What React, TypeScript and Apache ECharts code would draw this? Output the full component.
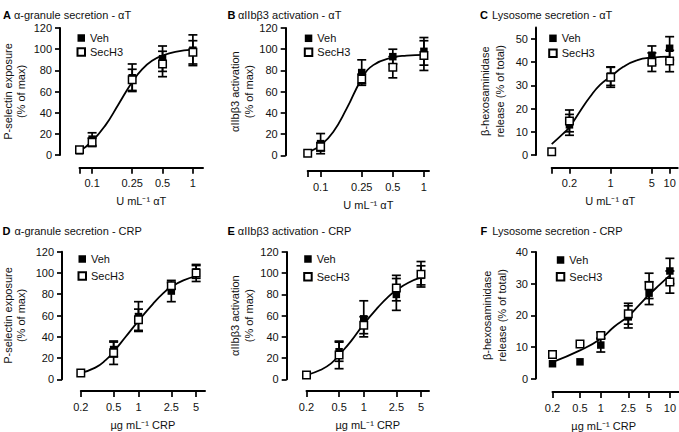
import React, { useEffect, useRef } from "react";
import * as echarts from "echarts";

// ---------- Data ----------
// Panel A: alpha-granule secretion - alphaT
const dosesA = [0.075, 0.1, 0.25, 0.5, 1];
const vehA = [4, 15, 73, 91, 99];
const vehErrA = [0, 6, 13, 12, 14.5];
const secA = [5, 12, 71, 86, 97];
const secErrA = [0, 4, 10, 12, 11];
const fitXA = [0.075, 0.1, 0.1355, 0.183, 0.25, 0.313, 0.393, 0.5, 0.668, 1];
const fitYA = [3.5, 13, 28, 48, 69, 81, 89, 94, 97.5, 99.5];
const xTicksA = [0.075, 0.1, 0.25, 0.5, 1];
const xLabelsA = ["", "0.1", "0.25", "0.5", "1"];
const yTicksA = [0, 20, 40, 60, 80, 100, 120];

// Panel B: alphaIIbbeta3 activation - alphaT
const dosesB = [0.075, 0.1, 0.25, 0.5, 1];
const vehB = [2, 11, 78, 93, 98];
const vehErrB = [0, 9.5, 12, 7, 13];
const secB = [2, 8, 72, 83, 94];
const secErrB = [0, 4, 4.5, 10, 14];
const fitXB = [0.08, 0.1, 0.1324, 0.1786, 0.25, 0.323, 0.5, 0.68, 1];
const fitYB = [4, 9.5, 22, 44, 72, 85, 92.3, 94, 94.7];
const xTicksB = [0.075, 0.1, 0.25, 0.5, 1];
const xLabelsB = ["", "0.1", "0.25", "0.5", "1"];
const yTicksB = [0, 20, 40, 60, 80, 100, 120];

// Panel C: Lysosome secretion - alphaT
const dosesC = [0.1, 0.2, 1, 5, 10];
const vehC = [1.4, 13, 34, 43, 46];
const vehErrC = [0, 4.5, 4, 4, 5];
const secC = [1.4, 14.7, 33.5, 40, 40.5];
const secErrC = [0, 4.7, 4.3, 4, 4.6];
const fitXC = [0.1, 0.158, 0.2, 0.303, 0.448, 0.66, 1, 1.64, 2.76, 5, 10];
const fitYC = [4.7, 9.3, 12, 18.9, 25.1, 30.2, 33.8, 38, 40.8, 42, 42.4];
const xTicksC = [0.1, 0.2, 1, 5, 10];
const xLabelsC = ["", "0.2", "1", "5", "10"];
const yTicksC = [0, 10, 20, 30, 40, 50];

// Panel D: alpha-granule secretion - CRP
const dosesD = [0.2, 0.5, 1, 2.5, 5];
const vehD = [6, 28, 59, 83, 101];
const vehErrD = [0, 7, 14, 10, 6];
const secD = [6, 25, 56, 88, 100];
const secErrD = [0, 11, 10, 3, 8];
const fitXD = [0.2, 0.3, 0.4, 0.5, 0.7, 1, 1.5, 2, 2.5, 3.5, 5];
const fitYD = [6, 11, 18, 26, 40, 55, 71, 81, 87, 93, 97];
const xTicksD = [0.2, 0.5, 1, 2.5, 5];
const xLabelsD = ["0.2", "0.5", "1", "2.5", "5"];
const yTicksD = [0, 20, 40, 60, 80, 100, 120];

// Panel E: alphaIIbbeta3 activation - CRP
const dosesE = [0.2, 0.5, 1, 2.5, 5];
const vehE = [4, 26, 57, 80, 98];
const vehErrE = [0, 9, 17, 15, 9];
const secE = [4, 23, 51, 86, 99];
const secErrE = [0, 13, 8, 12, 12];
const fitXE = [0.2, 0.3, 0.4, 0.5, 0.7, 1, 1.5, 2, 2.5, 3.5, 5];
const fitYE = [4, 9, 15, 23, 36, 52, 68, 78, 84, 91, 96];
const xTicksE = [0.2, 0.5, 1, 2.5, 5];
const xLabelsE = ["0.2", "0.5", "1", "2.5", "5"];
const yTicksE = [0, 20, 40, 60, 80, 100, 120];

// Panel F: Lysosome secretion - CRP
const dosesF = [0.2, 0.5, 1, 2.5, 5, 10];
const vehF = [4.7, 5.3, 10.6, 19.5, 27, 34];
const vehErrF = [0, 0, 2.2, 3.5, 3.6, 4];
const secF = [7.6, 10.9, 13.6, 20.5, 29.3, 30.5];
const secErrF = [0, 0, 1, 3.3, 4, 3.5];
const fitXF = [0.2, 0.5, 1, 1.56, 2.5, 3.61, 5, 7.06, 10];
const fitYF = [5.2, 8.9, 12.6, 16.4, 19.7, 23.3, 26.5, 29.6, 32.6];
const xTicksF = [0.2, 0.5, 1, 2.5, 5, 10];
const xLabelsF = ["0.2", "0.5", "1", "2.5", "5", "10"];
const yTicksF = [0, 10, 20, 30, 40];

const panelLetters = ["A", "B", "C", "D", "E", "F"];
const panelTitles = [
  "\u03B1-granule secretion - \u03B1T",
  "\u03B1IIb\u03B23 activation - \u03B1T",
  "Lysosome secretion - \u03B1T",
  "\u03B1-granule secretion - CRP",
  "\u03B1IIb\u03B23 activation - CRP",
  "Lysosome secretion - CRP",
];
const yNames = [
  "P-selectin exposure\n(% of max)",
  "\u03B1IIb\u03B23 activation\n(% of max)",
  "\u03B2-hexosaminidase\nrelease (% of total)",
  "P-selectin exposure\n(% of max)",
  "\u03B1IIb\u03B23 activation\n(% of max)",
  "\u03B2-hexosaminidase\nrelease (% of total)",
];
const xNames = [
  "U mL\u207B\u00B9 \u03B1T",
  "U mL\u207B\u00B9 \u03B1T",
  "U mL\u207B\u00B9 \u03B1T",
  "\u00B5g mL\u207B\u00B9 CRP",
  "\u00B5g mL\u207B\u00B9 CRP",
  "\u00B5g mL\u207B\u00B9 CRP",
];
const seriesNames = ["Veh", "SecH3"];

// ---------- Layout (positions & styles) ----------
const layouts = [
  { left: 79, top: 28, width: 124, height: 127, yOff: 19.5, xOff: 12.7, xMin: 0.075, xMax: 1.26, yMax: 120, yGap: 32, yLH: 13.5, lgLeft: 76.5, lgTop: 31.5, lgGap: 1, tLeft: 3, tTop: 8.5, tPad: 3, xPad: 0 },
  { left: 307.7, top: 28, width: 121.3, height: 127.3, yOff: 22, xOff: 15.7, xMin: 0.075, xMax: 1.12, yMax: 120, yGap: 30, yLH: 13.5, lgLeft: 303.8, lgTop: 31.8, lgGap: 1, tLeft: 227.5, tTop: 8.5, tPad: 2.5, xPad: 0 },
  { left: 551.7, top: 27.4, width: 126, height: 127.6, yOff: 15.7, xOff: 12.7, xMin: 0.1, xMax: 13.7, yMax: 55, yGap: 28.5, yLH: 15, lgLeft: 548.2, lgTop: 31.8, lgGap: 2, tLeft: 480, tTop: 8.5, tPad: 4, xPad: 9 },
  { left: 80.5, top: 251.7, width: 124.5, height: 127.6, yOff: 18.8, xOff: 11.7, xMin: 0.2, xMax: 6.4, yMax: 120, yGap: 34, yLH: 13.5, lgLeft: 77.5, lgTop: 252.5, lgGap: 4, tLeft: 2.5, tTop: 224.5, tPad: 4, xPad: 0 },
  { left: 306.5, top: 252, width: 122.5, height: 127.3, yOff: 19.8, xOff: 11.7, xMin: 0.2, xMax: 6.26, yMax: 120, yGap: 31, yLH: 13.5, lgLeft: 303.2, lgTop: 252.5, lgGap: 4.7, tLeft: 227.5, tTop: 224.5, tPad: 3, xPad: 0 },
  { left: 552.5, top: 252, width: 126.5, height: 127.3, yOff: 16.5, xOff: 13.4, xMin: 0.2, xMax: 13.5, yMax: 40, yGap: 27, yLH: 15, lgLeft: 555.8, lgTop: 253.5, lgGap: 3.7, tLeft: 480.5, tTop: 224.5, tPad: 5, xPad: 24 },
];

const panelData = [
  { doses: dosesA, veh: vehA, vehErr: vehErrA, sec: secA, secErr: secErrA, fitX: fitXA, fitY: fitYA, xTicks: xTicksA, xLabels: xLabelsA, yTicks: yTicksA },
  { doses: dosesB, veh: vehB, vehErr: vehErrB, sec: secB, secErr: secErrB, fitX: fitXB, fitY: fitYB, xTicks: xTicksB, xLabels: xLabelsB, yTicks: yTicksB },
  { doses: dosesC, veh: vehC, vehErr: vehErrC, sec: secC, secErr: secErrC, fitX: fitXC, fitY: fitYC, xTicks: xTicksC, xLabels: xLabelsC, yTicks: yTicksC },
  { doses: dosesD, veh: vehD, vehErr: vehErrD, sec: secD, secErr: secErrD, fitX: fitXD, fitY: fitYD, xTicks: xTicksD, xLabels: xLabelsD, yTicks: yTicksD },
  { doses: dosesE, veh: vehE, vehErr: vehErrE, sec: secE, secErr: secErrE, fitX: fitXE, fitY: fitYE, xTicks: xTicksE, xLabels: xLabelsE, yTicks: yTicksE },
  { doses: dosesF, veh: vehF, vehErr: vehErrF, sec: secF, secErr: secErrF, fitX: fitXF, fitY: fitYF, xTicks: xTicksF, xLabels: xLabelsF, yTicks: yTicksF },
];

const FONT = "'Liberation Sans', Arial, Helvetica, sans-serif";
const INK = "#000";
const L = (v: number) => Math.log10(v);

function errorBarRender(params: any, api: any) {
  const x = api.value(0);
  const lo = api.value(1);
  const hi = api.value(2);
  if (!(hi - lo > 0.01)) return null;
  const pLo = api.coord([x, lo]);
  const pHi = api.coord([x, hi]);
  const w = 4.5;
  const style = { stroke: INK, lineWidth: 1.7 };
  return {
    type: "group",
    children: [
      { type: "line", shape: { x1: pLo[0], y1: pLo[1], x2: pHi[0], y2: pHi[1] }, style },
      { type: "line", shape: { x1: pLo[0] - w, y1: pLo[1], x2: pLo[0] + w, y2: pLo[1] }, style },
      { type: "line", shape: { x1: pHi[0] - w, y1: pHi[1], x2: pHi[0] + w, y2: pHi[1] }, style },
    ],
  };
}

function buildOption() {
  const grid: any[] = [];
  const xAxis: any[] = [];
  const yAxis: any[] = [];
  const series: any[] = [];
  const title: any[] = [];
  const legend: any[] = [];

  panelData.forEach((d, i) => {
    const lay = layouts[i];
    grid.push({ left: lay.left, top: lay.top, width: lay.width, height: lay.height, containLabel: false });

    const tickLogs = d.xTicks.map(L);
    const labelLogs = d.xTicks.filter((_, k) => d.xLabels[k] !== "").map(L);
    xAxis.push({
      gridIndex: i,
      type: "value",
      min: L(lay.xMin),
      max: L(lay.xMax),
      position: "bottom",
      offset: lay.xOff,
      splitLine: { show: false },
      axisLine: { show: true, onZero: false, lineStyle: { color: INK, width: 2 } },
      axisTick: { show: true, customValues: tickLogs, length: 6, lineStyle: { color: INK, width: 1.7 } },
      axisLabel: {
        customValues: labelLogs,
        margin: 10,
        fontSize: 11,
        color: "#111",
        fontFamily: FONT,
        formatter: (v: number) => {
          const k = tickLogs.findIndex((t) => Math.abs(t - v) < 1e-6);
          return k >= 0 ? d.xLabels[k] : "";
        },
      },
      name: xNames[i],
      nameLocation: "middle",
      nameGap: 28,
      nameTextStyle: { fontSize: 11, color: "#111", fontFamily: FONT, padding: [0, lay.xPad, 0, 0] },
    });

    yAxis.push({
      gridIndex: i,
      type: "value",
      min: 0,
      max: lay.yMax,
      position: "left",
      offset: lay.yOff,
      splitLine: { show: false },
      axisLine: { show: true, onZero: false, lineStyle: { color: INK, width: 2 } },
      axisTick: { show: true, customValues: d.yTicks, length: 5, lineStyle: { color: INK, width: 1.7 } },
      axisLabel: { customValues: d.yTicks, margin: 8, fontSize: 11, color: "#111", fontFamily: FONT },
      name: yNames[i],
      nameLocation: "middle",
      nameRotate: 90,
      nameGap: lay.yGap,
      nameTextStyle: { fontSize: 11, color: "#111", fontFamily: FONT, lineHeight: lay.yLH },
    });

    const groups = [
      { vals: d.veh, errs: d.vehErr },
      { vals: d.sec, errs: d.secErr },
    ];
    groups.forEach((g, gi) => {
      series.push({
        type: "custom",
        name: "err" + i + "-" + gi,
        xAxisIndex: i,
        yAxisIndex: i,
        renderItem: errorBarRender,
        encode: { x: 0, y: [1, 2] },
        clip: false,
        z: 2,
        silent: true,
        data: d.doses.map((x, k) => [L(x), g.vals[k] - g.errs[k], g.vals[k] + g.errs[k]]),
      });
    });

    series.push({
      type: "line",
      name: "fit" + i,
      xAxisIndex: i,
      yAxisIndex: i,
      smooth: 0.5,
      symbol: "none",
      clip: false,
      z: 3,
      lineStyle: { color: INK, width: 1.8 },
      data: d.fitX.map((x, k) => [L(x), d.fitY[k]]),
    });

    series.push({
      type: "scatter",
      name: seriesNames[0],
      xAxisIndex: i,
      yAxisIndex: i,
      symbol: "rect",
      symbolSize: 7.5,
      clip: false,
      z: 4,
      itemStyle: { color: INK, opacity: 1 },
      data: d.doses.map((x, k) => [L(x), d.veh[k]]),
    });
    series.push({
      type: "scatter",
      name: seriesNames[1],
      xAxisIndex: i,
      yAxisIndex: i,
      symbol: "rect",
      symbolSize: 7.5,
      clip: false,
      z: 5,
      itemStyle: { color: "#fff", borderColor: INK, borderWidth: 1.5, opacity: 1 },
      data: d.doses.map((x, k) => [L(x), d.sec[k]]),
    });

    title.push({
      text: "{b|" + panelLetters[i] + "}{t|" + panelTitles[i] + "}",
      left: lay.tLeft,
      top: lay.tTop,
      padding: 0,
      textStyle: {
        fontFamily: FONT,
        fontWeight: "normal",
        rich: {
          b: { fontWeight: "bold", fontSize: 11, color: INK, fontFamily: FONT, lineHeight: 13 },
          t: { fontWeight: "normal", fontSize: 11, color: "#111", fontFamily: FONT, padding: [0, 0, 0, lay.tPad], lineHeight: 13 },
        },
      },
    });

    legend.push({
      data: seriesNames,
      orient: "vertical",
      left: lay.lgLeft,
      top: lay.lgTop,
      padding: 0,
      itemGap: lay.lgGap,
      itemWidth: 7.5,
      itemHeight: 7.5,
      selectedMode: false,
      textStyle: { fontSize: 11, color: "#111", fontFamily: FONT, lineHeight: 13 },
    });
  });

  return {
    animation: false,
    backgroundColor: "#fff",
    textStyle: { fontFamily: FONT },
    grid,
    xAxis,
    yAxis,
    series,
    title,
    legend,
  };
}

export default function App() {
  const ref = useRef<HTMLDivElement>(null);
  useEffect(() => {
    if (!ref.current) return;
    const chart = echarts.init(ref.current, undefined, { renderer: "svg" });
    chart.setOption(buildOption() as any);
    return () => chart.dispose();
  }, []);
  return (
    <div
      ref={ref}
      style={{ position: "fixed", left: 0, top: 0, width: 679, height: 432, background: "#fff" }}
    />
  );
}
